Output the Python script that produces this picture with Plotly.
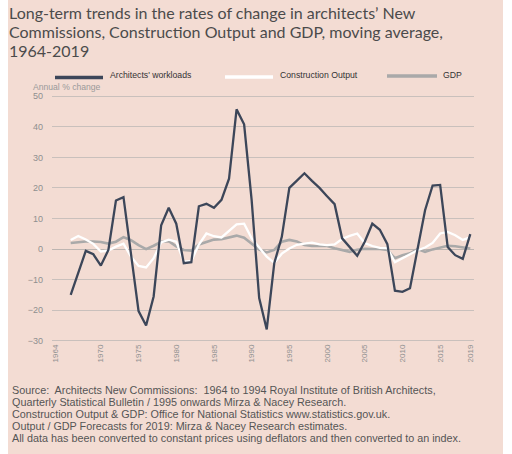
import plotly.graph_objects as go

years = list(range(1966, 2020))

architects = [-15, -8, -0.6, -1.7, -5.4, -0.3, 15.9, 17, -1.5, -20.3,
              -25, -15.5, 7.8, 13.5, 8.3, -4.6, -4.3, 14, 14.8, 13.5,
              16.1, 23, 45.7, 40.8, 16, -16, -26.3, -4.6, 4, 20,
              22.4, 24.8, 22.3, 20, 17.3, 14.7, 3.5, 0.8, -2.2, 2.4,
              8.3, 6.3, 1.6, -13.6, -14, -12.8, -0.3, 12.7, 20.8, 21,
              0.7, -2, -3.2, 4.9]

construction = [3, 4.3, 3.1, 1.7, -0.8, -0.5, 0.8, 1.8, -2.5, -5.5,
                -6, -3, 2.2, 3.1, 2.4, -4.1, -3.9, 1.5, 5.1, 4.2,
                3.8, 6, 8.1, 8.3, 3.5, 0.5, -2.5, -4.5, -1.5, 0.2,
                1.4, 1.8, 2.1, 1.5, 1.3, 1.5, 3.3, 4.3, 5.1, 2,
                1, 0.4, 0.3, -4.3, -3, -1.7, -0.4, 0.5, 2, 5.1,
                5.6, 4.5, 3, 3.8]

gdp = [2, 2.3, 2.5, 2.5, 2.3, 1.8, 2.4, 3.9, 2.9, 1.3,
       0, 1.1, 2.4, 2.6, 0.9, -0.3, -0.5, 1.5, 2.4, 3.1,
       3.2, 3.8, 4.4, 3.7, 1.8, -0.2, -1.1, -0.3, 2.4, 3,
       2.5, 1.3, 1, 1.1, 1, 0.3, -0.4, -0.9, -0.2, 0.1,
       0, 0, -0.3, -3, -2, -1.4, 0, -0.9, -0.1, 0.6,
       1.1, 0.9, 0.6, 0.2]

tick_years = [1964, 1970, 1975, 1980, 1985, 1990, 1995, 2000, 2005, 2010, 2015, 2019]
y_ticks = [-30, -20, -10, 0, 10, 20, 30, 40, 50]

series_names = ["Architects' workloads", "Construction Output", "GDP"]
colors = ["#3c4659", "#ffffff", "#a9a9a9"]

title_lines = ["Long-term trends in the rates of change in architects\u2019 New",
               "Commissions, Construction Output and GDP, moving average,",
               "1964-2019"]
footer_lines = ["Source:  Architects New Commissions:  1964 to 1994 Royal Institute of British Architects,",
                "Quarterly Statistical Bulletin / 1995 onwards Mirza &amp; Nacey Research.",
                "Construction Output &amp; GDP: Office for National Statistics www.statistics.gov.uk.",
                "Output / GDP Forecasts for 2019: Mirza &amp; Nacey Research estimates.",
                "All data has been converted to constant prices using deflators and then converted to an index."]

fig = go.Figure()
fig.add_trace(go.Scatter(x=years, y=gdp, mode="lines", name=series_names[2],
                         line=dict(color=colors[2], width=2.6)))
fig.add_trace(go.Scatter(x=years, y=construction, mode="lines", name=series_names[1],
                         line=dict(color=colors[1], width=2.3)))
fig.add_trace(go.Scatter(x=years, y=architects, mode="lines", name=series_names[0],
                         line=dict(color=colors[0], width=2.3)))

W, H = 512, 454
L, R, T, B = 52, 38, 95, 112
pw, ph = W - L - R, H - T - B

def px(p):
    return (p - L) / pw

def py(p):
    return (H - B - p) / ph

# panel background
fig.add_shape(type="rect", xref="paper", yref="paper",
              x0=px(8), x1=px(503), y0=py(454), y1=py(0),
              fillcolor="#f3dcd3", line=dict(width=0), layer="below")

# title lines
for i, t in enumerate(title_lines):
    fig.add_annotation(text=t, xref="paper", yref="paper",
                       x=px(7), y=py(12 + 19.2 * i), xanchor="left", yanchor="middle",
                       showarrow=False, font=dict(family="Lato", size=16, color="#4b4b4b"))

# legend (line sample + label)
legend_pos = [(55, 103, 77.5, 108), (225, 273, 77, 278), (387, 437, 76, 441)]
for name, col, (x0, x1, yl, xt) in zip(series_names, colors, legend_pos):
    fig.add_shape(type="line", xref="paper", yref="paper",
                  x0=px(x0), x1=px(x1), y0=py(yl), y1=py(yl),
                  line=dict(color=col, width=3.5))
    fig.add_annotation(text=name, xref="paper", yref="paper",
                       x=px(xt), y=py(75), xanchor="left", yanchor="middle",
                       showarrow=False, font=dict(family="Liberation Sans", size=8.7, color="#333333"))

fig.add_annotation(text="Annual % change", xref="paper", yref="paper",
                   x=px(31), y=py(87), xanchor="left", yanchor="middle",
                   showarrow=False, font=dict(family="Liberation Sans", size=8.6, color="#9a9a9a"))

for i, t in enumerate(footer_lines):
    fig.add_annotation(text=t, xref="paper", yref="paper",
                       x=px(10), y=py(390 + 12.07 * i), xanchor="left", yanchor="middle",
                       showarrow=False, font=dict(family="Liberation Sans", size=10.8, color="#555555"))

fig.update_layout(
    width=W, height=H,
    margin=dict(l=L, r=R, t=T, b=B),
    paper_bgcolor="#ffffff",
    plot_bgcolor="rgba(0,0,0,0)",
    showlegend=False,
    xaxis=dict(range=[1963.52, 2019.49], tickmode="array", tickvals=tick_years,
               ticktext=[str(t) for t in tick_years], tickangle=-90,
               showgrid=False, zeroline=False, showline=False, ticks="",
               tickfont=dict(family="Liberation Sans", size=8, color="#8f8f8f")),
    yaxis=dict(range=[-30.4, 50.4], tickmode="array", tickvals=y_ticks,
               showgrid=True, gridcolor="#c9c0bc", gridwidth=1,
               zeroline=True, zerolinecolor="#bdb5b1", zerolinewidth=1,
               showline=False, ticks="", ticklabelstandoff=8,
               tickfont=dict(family="Liberation Sans", size=9, color="#8f8f8f")),
)

fig.write_html("out.html", config={"displayModeBar": False},
               post_script="document.body.style.margin='0';document.body.style.padding='0';")
